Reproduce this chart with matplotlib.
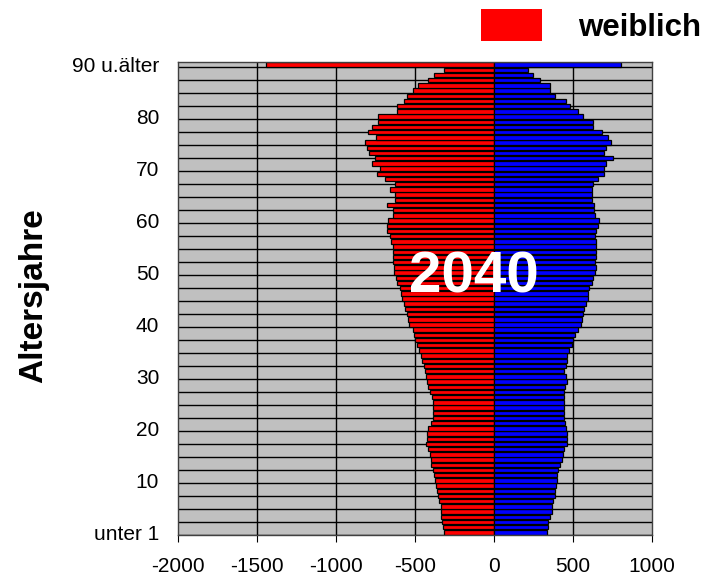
import numpy as np
import matplotlib
matplotlib.use('Agg')
import matplotlib.pyplot as plt
from matplotlib.patches import Patch

plt.rcParams['font.family'] = ['Liberation Sans', 'DejaVu Sans']

ages = np.arange(0, 91)
weiblich = [316, 325, 327, 333, 338, 338, 350, 357, 363, 369,
            373, 380, 388, 399, 401, 405, 416, 430, 426, 422,
            416, 401, 388, 384, 384, 384, 395, 405, 416, 422,
            430, 437, 443, 458, 464, 473, 485, 500, 504, 515,
            536, 542, 549, 560, 570, 584, 591, 595, 612, 620,
            633, 633, 637, 641, 637, 641, 654, 658, 679, 679,
            669, 641, 641, 679, 627, 627, 658, 627, 690, 743,
            722, 770, 755, 791, 806, 816, 747, 795, 770, 732,
            732, 616, 616, 567, 553, 515, 479, 416, 378, 316,
            1443]
maennlich = [333, 340, 344, 354, 365, 365, 376, 386, 386, 392,
             397, 401, 407, 418, 428, 439, 445, 460, 460, 460,
             456, 449, 445, 445, 445, 445, 445, 445, 449, 460,
             456, 443, 456, 460, 464, 477, 492, 502, 513, 534,
             549, 555, 565, 570, 582, 597, 597, 603, 618, 629,
             639, 646, 639, 646, 646, 646, 646, 639, 646, 660,
             667, 639, 633, 633, 618, 618, 618, 624, 660, 696,
             696, 709, 751, 696, 709, 738, 724, 686, 624, 624,
             561, 534, 481, 456, 386, 354, 354, 291, 249, 217,
             801]
ytick_pos = [0, 10, 20, 30, 40, 50, 60, 70, 80, 90]
ytick_labels = ['unter 1', '10', '20', '30', '40', '50', '60', '70', '80', '90 u.älter']
xticks = [-2000, -1500, -1000, -500, 0, 500, 1000]

fig = plt.figure(figsize=(7.04, 5.77), dpi=100)
ax = fig.add_axes([0.2528, 0.0728, 0.6733, 0.8197])
ax.set_facecolor('#C0C0C0')

# grid lines (horizontal every 2.5 categories, vertical at x ticks)
for y in np.arange(-0.5, 90.6, 2.5):
    ax.axhline(y, color='black', lw=1, zorder=1)
for x in xticks[1:-1]:
    ax.axvline(x, color='black', lw=1, zorder=1)

ax.barh(ages, -np.array(weiblich), height=0.85, color='#FF0000',
        edgecolor='black', lw=0.9, zorder=2)
ax.barh(ages, maennlich, height=0.85, color='#0000FF',
        edgecolor='black', lw=0.9, zorder=2)

ax.set_xlim(-2000, 1000)
ax.set_ylim(-0.5, 90.5)
ax.set_xticks(xticks)
ax.set_xticklabels([str(v) for v in xticks], fontsize=15)
ax.set_yticks(ytick_pos)
ax.set_yticklabels(ytick_labels, fontsize=15)
ax.tick_params(axis='y', length=0, pad=13.5)
ax.tick_params(axis='x', length=5, direction='out', pad=11)
for s in ax.spines.values():
    s.set_color('#404040')
    s.set_linewidth(1)

ax.set_ylabel('Altersjahre', fontsize=24, fontweight='bold')
ax.yaxis.set_label_coords(-0.272, 0.506)

ax.text(-125, 49, '2040', color='white', fontsize=42, fontweight='bold',
        ha='center', va='center', zorder=3)

fig.legend(handles=[Patch(facecolor='#FF0000', edgecolor='none')], labels=['weiblich'],
           loc='upper left', bbox_to_anchor=(481 / 704, 1 - 9 / 577), frameon=False,
           prop={'size': 22.5, 'weight': 'bold'}, handlelength=1.95, handleheight=1.2,
           handletextpad=1.15, borderpad=0, borderaxespad=0)

fig.savefig('out.png', dpi=100)
